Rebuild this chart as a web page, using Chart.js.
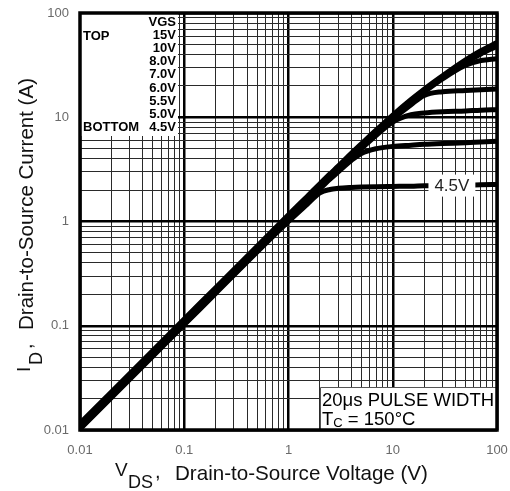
<!DOCTYPE html>
<html><head><meta charset="utf-8">
<script src="https://cdn.jsdelivr.net/npm/chart.js@4.4.0/dist/chart.umd.min.js"></script>
<style>html,body{margin:0;padding:0;background:#fff}canvas{display:block}</style>
</head><body>
<canvas id="c" width="510" height="491"></canvas>
<script>
// ---- data ----
const vds = [0.01, 0.02, 0.05, 0.1, 0.2, 0.5, 1, 1.5, 2, 2.5, 3, 4, 5, 7, 10, 15, 20, 30, 50, 70, 100];
const id15V = [0.0116, 0.0232, 0.058, 0.116, 0.232, 0.58, 1.16, 1.73, 2.3, 2.86, 3.4, 4.5, 5.55, 7.6, 10.5, 14.8, 18.6, 25, 35.5, 43.5, 52];
const id10V = [0.0114, 0.0228, 0.057, 0.114, 0.228, 0.57, 1.14, 1.7, 2.26, 2.81, 3.35, 4.42, 5.45, 7.45, 10.3, 14.5, 18.2, 24.5, 34.5, 42, 50];
const id8V  = [0.0112, 0.0224, 0.056, 0.112, 0.224, 0.56, 1.12, 1.67, 2.22, 2.76, 3.3, 4.35, 5.35, 7.3, 10.1, 14.2, 17.8, 24, 33.5, 40.5, 48];
const id7V  = [0.011, 0.022, 0.055, 0.11, 0.22, 0.55, 1.1, 1.64, 2.18, 2.71, 3.24, 4.27, 5.25, 7.15, 9.85, 13.9, 17.4, 23.3, 31.5, 35, 36.5];
const id6V  = [0.0108, 0.0216, 0.054, 0.108, 0.216, 0.54, 1.08, 1.61, 2.14, 2.66, 3.17, 4.18, 5.15, 7.0, 9.6, 13.2, 16.2, 17.6, 18.1, 18.4, 18.7];
const id55V = [0.0106, 0.0212, 0.053, 0.106, 0.212, 0.53, 1.06, 1.58, 2.1, 2.61, 3.1, 4.08, 5.0, 6.75, 9.0, 10.6, 11.0, 11.3, 11.5, 11.7, 11.8];
const id5V  = [0.0104, 0.0208, 0.052, 0.104, 0.208, 0.52, 1.04, 1.55, 2.05, 2.54, 3.0, 3.85, 4.5, 5.0, 5.25, 5.4, 5.5, 5.6, 5.7, 5.8, 5.9];
const id45V = [0.0102, 0.0204, 0.051, 0.102, 0.204, 0.51, 1.0, 1.45, 1.88, 2.03, 2.08, 2.12, 2.14, 2.16, 2.17, 2.18, 2.2, 2.21, 2.23, 2.25, 2.27];
const seriesLabels = ['15V', '10V', '8.0V', '7.0V', '6.0V', '5.5V', '5.0V', '4.5V'];
const seriesValues = [id15V, id10V, id8V, id7V, id6V, id55V, id5V, id45V];

const xTickValues = [0.01, 0.1, 1, 10, 100];
const xTickLabels = ['0.01', '0.1', '1', '10', '100'];
const yTickValues = [0.01, 0.1, 1, 10, 100];
const yTickLabels = ['0.01', '0.1', '1', '10', '100'];

const legendHeader = 'VGS';
const legendTopWord = 'TOP';
const legendBottomWord = 'BOTTOM';
const noteLine1 = '20\u03bcs PULSE WIDTH';
const noteTempMain = 'T';
const noteTempSub = 'C';
const noteTempRest = ' = 150\u00b0C';
const curveLabel = '4.5V';
const curveLabelRange = [22, 62];   // V range covered by the in-curve label
const xTitleMain = 'V', xTitleSub = 'DS', xTitleRest = 'Drain-to-Source Voltage (V)';
const yTitleMain = 'I', yTitleSub = 'D', yTitleRest = 'Drain-to-Source Current (A)';

// ---- helpers ----
const isMajor = v => Math.abs(Math.log10(v) - Math.round(Math.log10(v))) < 1e-6;
function gridTicks(min, max) {
  const out = [];
  for (let e = Math.round(Math.log10(min)); e < Math.round(Math.log10(max)); e++) {
    for (let m = 1; m < 10; m++) out.push({ value: m * Math.pow(10, e) });
  }
  out.push({ value: max });
  return out;
}
function labelFor(values, labels, v) {
  for (let i = 0; i < values.length; i++) if (Math.abs(Math.log10(v) - Math.log10(values[i])) < 1e-6) return labels[i];
  return '';
}
const FONT = '"Liberation Sans", Arial, sans-serif';

const datasets = seriesLabels.map((lab, i) => ({
  label: lab,
  data: vds.map((v, j) => ({ x: v, y: seriesValues[i][j] })),
  borderColor: '#000',
  borderWidth: 5,
  pointRadius: 0,
  cubicInterpolationMode: 'monotone',
  fill: false
}));

function fitFont(ctx, text, width) {
  ctx.font = '20px ' + FONT;
  const s = 20 * width / ctx.measureText(text).width;
  ctx.font = s.toFixed(2) + 'px ' + FONT;
}

const overlay = {
  id: 'overlay',
  afterDatasetsDraw(chart) {
    const { ctx, chartArea: a, scales } = chart;
    ctx.save();
    // legend block (top-left)
    ctx.fillStyle = '#fff';
    ctx.fillRect(a.left, a.top, 98, 123);
    ctx.fillStyle = '#000';
    ctx.font = 'bold 13px ' + FONT;
    ctx.textBaseline = 'middle';
    ctx.textAlign = 'right';
    const rows = [legendHeader].concat(seriesLabels);
    rows.forEach((t, i) => ctx.fillText(t, a.left + 96, a.top + 9 + i * 13.2));
    ctx.textAlign = 'left';
    ctx.fillText(legendTopWord, a.left + 3, a.top + 9 + 13.2 + 1);
    ctx.fillText(legendBottomWord, a.left + 3, a.top + 9 + 8 * 13.2);

    // pulse width note (bottom-right)
    const bx = 320, by = 387;
    ctx.fillStyle = '#fff';
    ctx.fillRect(bx, by, a.right - bx, a.bottom - by);
    ctx.strokeStyle = '#555';
    ctx.lineWidth = 1;
    ctx.beginPath();
    ctx.moveTo(bx + 0.5, a.bottom); ctx.lineTo(bx + 0.5, by + 0.5); ctx.lineTo(a.right, by + 0.5);
    ctx.stroke();
    ctx.fillStyle = '#000';
    ctx.textBaseline = 'alphabetic';
    ctx.textAlign = 'left';
    ctx.font = '18.5px ' + FONT;
    ctx.fillText(noteLine1, bx + 2, by + 19);
    let tx = bx + 2;
    ctx.fillText(noteTempMain, tx, by + 38);
    tx += ctx.measureText(noteTempMain).width;
    ctx.font = '13px ' + FONT;
    ctx.fillText(noteTempSub, tx, by + 40);
    tx += ctx.measureText(noteTempSub).width;
    ctx.font = '18.5px ' + FONT;
    ctx.fillText(noteTempRest, tx, by + 38);

    // in-curve label for 4.5V
    const lx0 = scales.x.getPixelForValue(curveLabelRange[0]);
    const lx1 = scales.x.getPixelForValue(curveLabelRange[1]);
    const ly = scales.y.getPixelForValue(id45V[id45V.length - 4]);
    ctx.fillStyle = '#fff';
    ctx.fillRect(lx0, ly - 11, lx1 - lx0, 22);
    ctx.fillStyle = '#222';
    ctx.font = '17px ' + FONT;
    ctx.textAlign = 'center';
    ctx.textBaseline = 'middle';
    ctx.fillText(curveLabel, (lx0 + lx1) / 2, ly + 1);

    // frame
    ctx.strokeStyle = '#000';
    ctx.lineWidth = 3.5;
    ctx.strokeRect(a.left, a.top, a.right - a.left, a.bottom - a.top);
    ctx.restore();
  },
  afterDraw(chart) {
    const { ctx } = chart;
    ctx.save();
    ctx.fillStyle = '#111';
    ctx.textBaseline = 'alphabetic';
    ctx.textAlign = 'left';
    // x title
    ctx.font = '19px ' + FONT; ctx.fillText(xTitleMain, 115, 476);
    ctx.font = '18px ' + FONT; ctx.fillText(xTitleSub, 128, 488);
    ctx.font = '20px ' + FONT; ctx.fillText(',', 155, 478);
    fitFont(ctx, xTitleRest, 253); ctx.fillText(xTitleRest, 175, 480);
    // y title (rotated; local x runs upward from screen y = 380)
    ctx.translate(0, 380);
    ctx.rotate(-Math.PI / 2);
    ctx.font = '19px ' + FONT; ctx.fillText(yTitleMain, 8, 30);
    ctx.font = '18px ' + FONT; ctx.fillText(yTitleSub, 15, 42);
    ctx.font = '20px ' + FONT; ctx.fillText(',', 31, 32);
    fitFont(ctx, yTitleRest, 252); ctx.fillText(yTitleRest, 50, 33);
    ctx.restore();
  }
};

new Chart(document.getElementById('c'), {
  type: 'line',
  data: { datasets },
  options: {
    responsive: false,
    animation: false,
    devicePixelRatio: 1,
    layout: { padding: { top: 13, right: 13, left: 0, bottom: 0 } },
    plugins: { legend: { display: false }, tooltip: { enabled: false } },
    scales: {
      x: {
        type: 'logarithmic', min: 0.01, max: 100,
        afterBuildTicks: s => { s.ticks = gridTicks(0.01, 100); },
        afterFit: s => { s.height = 61; s.paddingLeft = 0; s.paddingRight = 0; },
        border: { display: false },
        grid: {
          drawTicks: false,
          color: c => isMajor(c.tick.value) ? '#000' : '#2a2a2a',
          lineWidth: c => isMajor(c.tick.value) ? 2.5 : 1
        },
        ticks: {
          autoSkip: false, maxRotation: 0, padding: 13,
          color: '#6a6a6a', font: { family: FONT, size: 13 },
          callback: v => labelFor(xTickValues, xTickLabels, v)
        }
      },
      y: {
        type: 'logarithmic', min: 0.01, max: 100,
        afterBuildTicks: s => { s.ticks = gridTicks(0.01, 100); },
        afterFit: s => { s.width = 80; s.paddingTop = 0; s.paddingBottom = 0; },
        border: { display: false },
        grid: {
          drawTicks: false,
          color: c => isMajor(c.tick.value) ? '#000' : '#2a2a2a',
          lineWidth: c => isMajor(c.tick.value) ? 2.5 : 1
        },
        ticks: {
          autoSkip: false, padding: 11,
          color: '#6a6a6a', font: { family: FONT, size: 13 },
          callback: v => labelFor(yTickValues, yTickLabels, v)
        }
      }
    }
  },
  plugins: [overlay]
});
</script>
</body></html>
